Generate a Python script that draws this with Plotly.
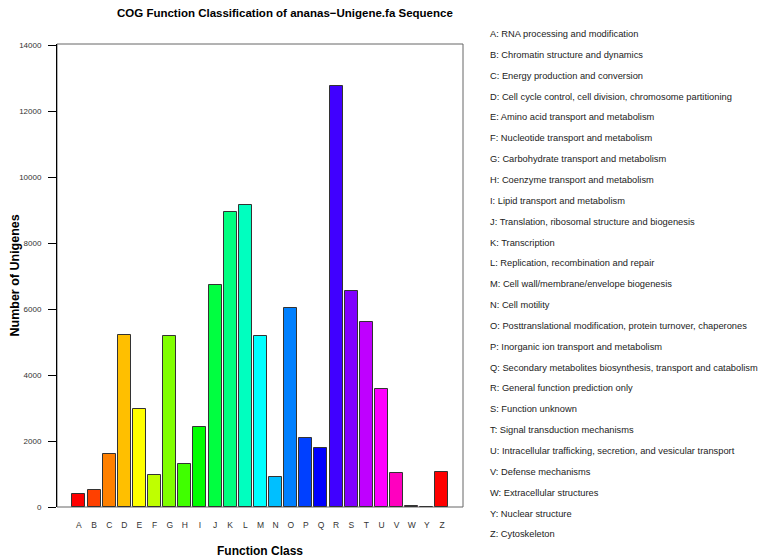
import plotly.graph_objects as go

categories = ["A","B","C","D","E","F","G","H","I","J","K","L","M","N","O","P","Q","R","S","T","U","V","W","Y","Z"]
values = [390, 520, 1620, 5210, 2960, 960, 5190, 1290, 2415, 6750, 8955, 9175, 5175, 905, 6050, 2100, 1805, 12770, 6555, 5605, 3585, 1040, 18, 6, 1070]
descriptions = [
    "RNA processing and modification",
    "Chromatin structure and dynamics",
    "Energy production and conversion",
    "Cell cycle control, cell division, chromosome partitioning",
    "Amino acid transport and metabolism",
    "Nucleotide transport and metabolism",
    "Carbohydrate transport and metabolism",
    "Coenzyme transport and metabolism",
    "Lipid transport and metabolism",
    "Translation, ribosomal structure and biogenesis",
    "Transcription",
    "Replication, recombination and repair",
    "Cell wall/membrane/envelope biogenesis",
    "Cell motility",
    "Posttranslational modification, protein turnover, chaperones",
    "Inorganic ion transport and metabolism",
    "Secondary metabolites biosynthesis, transport and catabolism",
    "General function prediction only",
    "Function unknown",
    "Signal transduction mechanisms",
    "Intracellular trafficking, secretion, and vesicular transport",
    "Defense mechanisms",
    "Extracellular structures",
    "Nuclear structure",
    "Cytoskeleton",
]
colors = ["#FF0000","#FF4000","#FF8000","#FFBF00","#FFFF00","#BFFF00","#80FF00","#40FF00",
          "#00FF00","#00FF40","#00FF80","#00FFBF","#00FFFF","#00BFFF","#0080FF","#0040FF",
          "#0000FF","#4000FF","#8000FF","#BF00FF","#FF00FF","#FF00BF","#FF0080","#FF0040","#FF0000"]
y_ticks = [0, 2000, 4000, 6000, 8000, 10000, 12000, 14000]

# The page body has an 8px margin, so the figure is drawn 8px in from the corner.
OFF = 8
W, H = 767 - OFF, 558 - OFF
L, R, T, B = 57 - OFF, 463 - OFF, 44 - OFF, 507 - OFF
FONT = "Liberation Sans, Arial, sans-serif"

def px_x(x):
    return (x - OFF - L) / (R - L)

def px_y(y):
    return (B - (y - OFF)) / (B - T)

fig = go.Figure(go.Bar(
    x=list(range(len(categories))), y=values,
    marker=dict(color=colors, line=dict(color="#333333", width=1)),
    width=0.86,
))

annotations = []
for i, (c, d) in enumerate(zip(categories, descriptions)):
    annotations.append(dict(
        x=px_x(488), y=px_y(34 + i * 20.85), xref="paper", yref="paper",
        text=f"{c}: {d}", showarrow=False, xanchor="left", yanchor="middle",
        font=dict(family=FONT, size=9.3, color="#222222"),
    ))
annotations.append(dict(
    x=px_x(14), y=0.5, xref="paper", yref="paper", text="<b>Number of Unigenes</b>",
    textangle=-90, showarrow=False, xanchor="center", yanchor="middle",
    font=dict(family=FONT, size=12.5, color="#000000")))
annotations.append(dict(
    x=px_x(260), y=px_y(551), xref="paper", yref="paper", text="<b>Function Class</b>",
    showarrow=False, xanchor="center", yanchor="middle",
    font=dict(family=FONT, size=12, color="#000000")))
annotations.append(dict(
    x=px_x(285), y=px_y(13), xref="paper", yref="paper",
    text="<b>COG Function Classification of ananas\u2212Unigene.fa Sequence</b>",
    showarrow=False, xanchor="center", yanchor="middle",
    font=dict(family=FONT, size=11.5, color="#000000")))

fig.update_layout(
    width=W, height=H,
    margin=dict(l=L, r=W - R, t=T, b=H - B, pad=0, autoexpand=False),
    plot_bgcolor="white", paper_bgcolor="white",
    showlegend=False,
    annotations=annotations,
    bargap=0,
    shapes=[dict(type="rect", xref="paper", yref="paper", x0=0, y0=0, x1=1, y1=1,
                 layer="below", line=dict(color="#666666", width=1))],
)
fig.update_xaxes(
    range=[-1.45, 25.39], tickmode="array", tickvals=list(range(len(categories))),
    ticktext=categories, showgrid=False, zeroline=False, showline=False, ticks="",
    tickfont=dict(family=FONT, size=8.5, color="#333333"), ticklabelstandoff=11,
    automargin=False,
)
fig.update_yaxes(
    range=[0, 14050], tickmode="array", tickvals=y_ticks, ticktext=[str(v) for v in y_ticks],
    showgrid=False, zeroline=False, showline=True, linecolor="#000000", linewidth=1,
    ticks="outside", ticklen=8, tickcolor="#000000", ticklabelstandoff=5,
    tickfont=dict(family=FONT, size=8, color="#333333"), automargin=False,
)
fig.write_html("out.html")
